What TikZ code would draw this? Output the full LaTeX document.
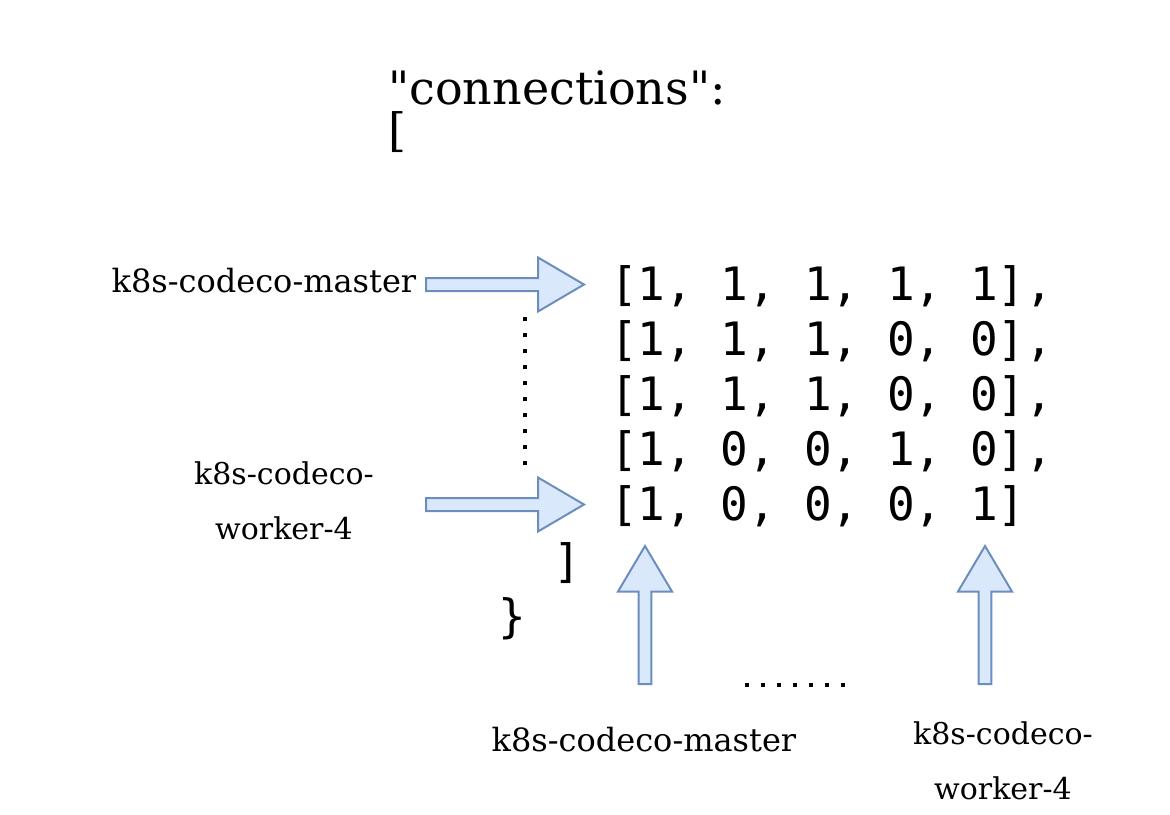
\documentclass[tikz,border=0pt]{standalone}
\usepackage{fontspec}
\newfontfamily\labelfont{DejaVu Serif}
\newfontfamily\codefont{DejaVu Sans Mono}
\usetikzlibrary{positioning}
\definecolor{arrowfill}{HTML}{DAE8FC}
\definecolor{arrowline}{HTML}{6C8EBF}

\begin{document}
\begin{tikzpicture}[x=1pt,y=-1pt,
  titletext/.style={font=\labelfont\fontsize{46}{42}\selectfont, inner sep=0pt, anchor=base west},
  nametext/.style={font=\labelfont\fontsize{30}{55}\selectfont, inner sep=0pt, anchor=base, align=center},
  code/.style={font=\codefont\fontsize{46}{55}\selectfont, inner sep=0pt, anchor=base west},
  blockarrow/.style={draw=arrowline, fill=arrowfill, line width=2pt, line join=miter},
  dots/.style={line width=4pt, dash pattern=on 4pt off 12pt}]

\useasboundingbox (0,0) rectangle (1170,814);

% header
\node[titletext] (title) at (388,104) {"connections":};
\node[titletext] (open) at (388,146) {[};

% matrix rows
\foreach \row [count=\i] in {{[1, 1, 1, 1, 1],},{[1, 1, 1, 0, 0],},{[1, 1, 1, 0, 0],},{[1, 0, 0, 1, 0],},{[1, 0, 0, 0, 1]}}
  \node[code] (row\i) at (610,{300+55*(\i-1)}) {\row};

\node[code, anchor=base] (close) at (567,577) {]};
\node[code, anchor=base] (brace) at (512,632) {\}};

% row labels
\node[nametext, font=\labelfont\fontsize{32}{55}\selectfont] (firstrow) at (264,292) {k8s-codeco-master};
\node[nametext] (lastrow) at (284,539) {k8s-codeco-\\worker-4};

% column labels
\node[nametext, font=\labelfont\fontsize{32}{55}\selectfont] (firstcol) at (644,751) {k8s-codeco-master};
\node[nametext] (lastcol) at (1003,799) {k8s-codeco-\\worker-4};

% row arrows
\draw[blockarrow] (426,278) -- (538,278) -- (538,257.5) -- (584,284.5) -- (538,311.5) -- (538,291) -- (426,291) -- cycle;
\draw[blockarrow] (426,498) -- (538,498) -- (538,477.5) -- (584,504.5) -- (538,531.5) -- (538,511) -- (426,511) -- cycle;

% column arrows
\draw[blockarrow] (638.7,684) -- (638.7,591.5) -- (618,591.5) -- (645,546) -- (672,591.5) -- (651.3,591.5) -- (651.3,684) -- cycle;
\draw[blockarrow] (978.7,684) -- (978.7,591.5) -- (958,591.5) -- (985,546) -- (1012,591.5) -- (991.3,591.5) -- (991.3,684) -- cycle;

% dots
\draw[dots] (525,317) -- (525,465);
\draw[dots] (745,684.5) -- (845,684.5);
\end{tikzpicture}
\end{document}
